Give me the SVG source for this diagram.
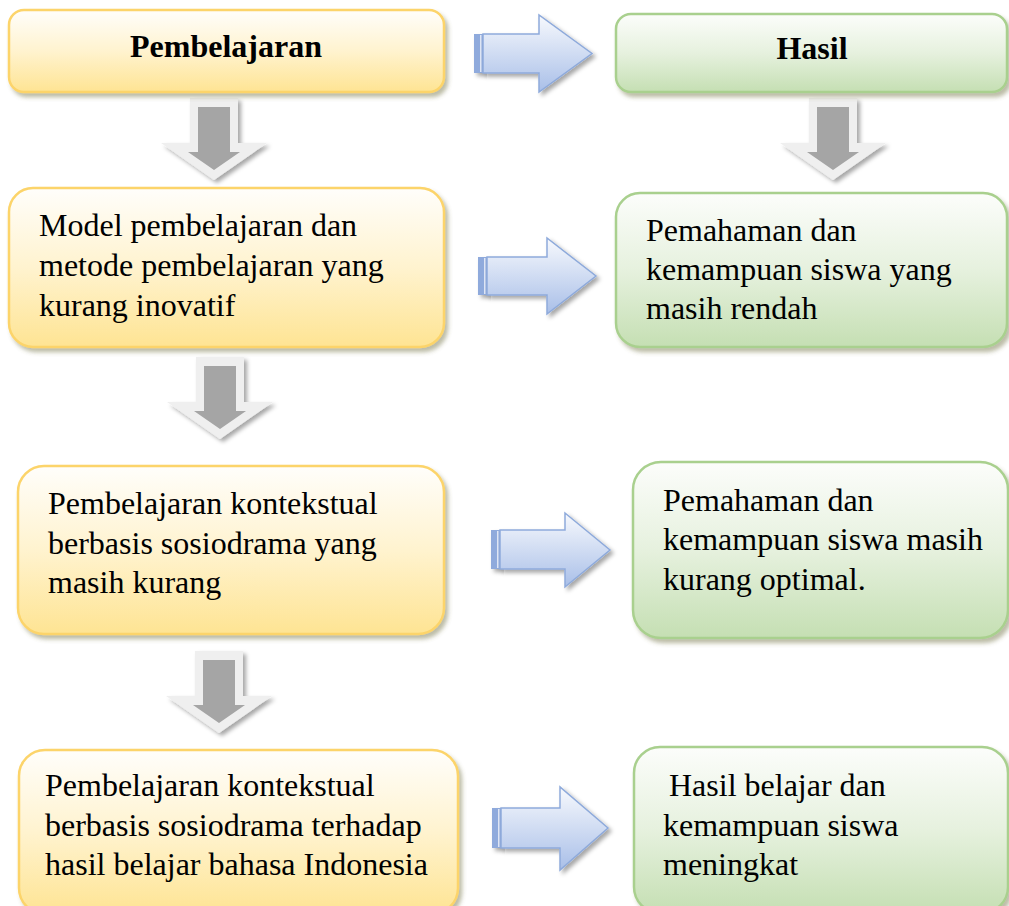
<svg xmlns="http://www.w3.org/2000/svg" width="1009" height="906" viewBox="0 0 1009 906">
<style>
.t{font-family:"Liberation Serif","Times New Roman",serif;font-size:32px;fill:#000}
.b{font-weight:bold}
.yb{fill:url(#gy);stroke:#fcd46a;stroke-width:2.5;filter:url(#sh)}
.gb{fill:url(#gg);stroke:#a9d08e;stroke-width:2.5;filter:url(#sh)}
.ao{fill:#efefef;filter:url(#sh2)}
.ai{fill:#a5a5a5}
.ba{fill:url(#gb);stroke:#8eaadb;stroke-width:1.5;filter:url(#sh2)}
.bs{fill:#8faadc;filter:url(#sh2)}
.bl{fill:#dfe6f5}
</style>
<defs>
<linearGradient id="gy" x1="0" y1="0" x2="0" y2="1"><stop offset="0" stop-color="#fffefb"/><stop offset="0.5" stop-color="#fff3cf"/><stop offset="1" stop-color="#fee493"/></linearGradient>
<linearGradient id="gg" x1="0" y1="0" x2="0" y2="1"><stop offset="0" stop-color="#fcfdfb"/><stop offset="0.5" stop-color="#e6f1de"/><stop offset="1" stop-color="#c5dfb3"/></linearGradient>
<linearGradient id="gb" x1="0" y1="0" x2="0" y2="1"><stop offset="0" stop-color="#f7f9fd"/><stop offset="1" stop-color="#a9bfe8"/></linearGradient>
<filter id="sh" x="-10%" y="-10%" width="125%" height="130%"><feDropShadow dx="3" dy="4" stdDeviation="2" flood-color="#6b6b3a" flood-opacity="0.45"/></filter>
<filter id="sh2" x="-30%" y="-20%" width="160%" height="150%"><feDropShadow dx="3" dy="3" stdDeviation="2" flood-color="#000" flood-opacity="0.35"/></filter>
</defs>

<g id="connectors">
  <g id="down1">
    <polygon class="ao" points="190,98 238,98 238,143 267,143 214,180 161,143 190,143"/>
    <polygon class="ai" points="198,107 230,107 230,152 240,152 214,170 188,152 198,152"/>
  </g>
  <g id="down2">
    <polygon class="ao" points="809,98 857,98 857,143 886,143 833,180 780,143 809,143"/>
    <polygon class="ai" points="817,107 849,107 849,152 859,152 833,170 807,152 817,152"/>
  </g>
  <g id="down3">
    <polygon class="ao" points="196,357 244,357 244,402 273,402 220,439 167,402 196,402"/>
    <polygon class="ai" points="204,366 236,366 236,411 246,411 220,429 194,411 204,411"/>
  </g>
  <g id="down4">
    <polygon class="ao" points="195,651 243,651 243,696 272,696 219,733 166,696 195,696"/>
    <polygon class="ai" points="203,660 235,660 235,705 245,705 219,723 193,705 203,705"/>
  </g>
  <g id="right1">
    <rect class="bs" x="474" y="34" width="10" height="39"/>
    <rect class="bl" x="480" y="35" width="1.5" height="37"/>
    <polygon class="ba" points="483,34 539,34 539,15 592,53.5 539,92 539,73 483,73"/>
  </g>
  <g id="right2">
    <rect class="bs" x="478" y="257" width="10" height="38"/>
    <rect class="bl" x="484" y="258" width="1.5" height="36"/>
    <polygon class="ba" points="487,257 547,257 547,238 596,276 547,314 547,295 487,295"/>
  </g>
  <g id="right3">
    <rect class="bs" x="491" y="530" width="10" height="39"/>
    <rect class="bl" x="497" y="531" width="1.5" height="37"/>
    <polygon class="ba" points="500,530 565,530 565,513 610,550 565,587 565,569 500,569"/>
  </g>
  <g id="right4">
    <rect class="bs" x="492" y="808" width="10" height="40"/>
    <rect class="bl" x="498" y="809" width="1.5" height="38"/>
    <polygon class="ba" points="501,808 560,808 560,787 608,828 560,870 560,848 501,848"/>
  </g>
</g>

<g id="n-pembelajaran">
  <rect class="yb" x="9" y="10" width="435" height="82" rx="15"/>
  <text class="t b" x="226" y="57" text-anchor="middle">Pembelajaran</text>
</g>
<g id="n-hasil">
  <rect class="gb" x="616" y="14" width="391" height="78" rx="15"/>
  <text class="t b" x="812" y="59" text-anchor="middle">Hasil</text>
</g>
<g id="n-model">
  <rect class="yb" x="9" y="188" width="435" height="159" rx="24"/>
  <text class="t" x="39" y="236">Model pembelajaran dan</text>
  <text class="t" x="39" y="276">metode pembelajaran yang</text>
  <text class="t" x="39" y="316">kurang inovatif</text>
</g>
<g id="n-rendah">
  <rect class="gb" x="616" y="193" width="391" height="154" rx="24"/>
  <text class="t" x="646" y="241">Pemahaman dan</text>
  <text class="t" x="646" y="280">kemampuan siswa yang</text>
  <text class="t" x="646" y="319">masih rendah</text>
</g>
<g id="n-kontekstual">
  <rect class="yb" x="18" y="466" width="426" height="168" rx="26"/>
  <text class="t" x="48" y="514">Pembelajaran kontekstual</text>
  <text class="t" x="48" y="554">berbasis sosiodrama yang</text>
  <text class="t" x="48" y="593">masih kurang</text>
</g>
<g id="n-optimal">
  <rect class="gb" x="633" y="462" width="375" height="176" rx="28"/>
  <text class="t" x="663" y="511">Pemahaman dan</text>
  <text class="t" x="663" y="550">kemampuan siswa masih</text>
  <text class="t" x="663" y="590">kurang optimal.</text>
</g>
<g id="n-terhadap">
  <rect class="yb" x="19" y="750" width="439" height="164" rx="26"/>
  <text class="t" x="45" y="796">Pembelajaran kontekstual</text>
  <text class="t" x="45" y="836">berbasis sosiodrama terhadap</text>
  <text class="t" x="45" y="875">hasil belajar bahasa Indonesia</text>
</g>
<g id="n-meningkat">
  <rect class="gb" x="634" y="747" width="374" height="166" rx="26"/>
  <text class="t" x="669" y="796">Hasil belajar dan</text>
  <text class="t" x="663" y="836">kemampuan siswa</text>
  <text class="t" x="663" y="875">meningkat</text>
</g>
</svg>
